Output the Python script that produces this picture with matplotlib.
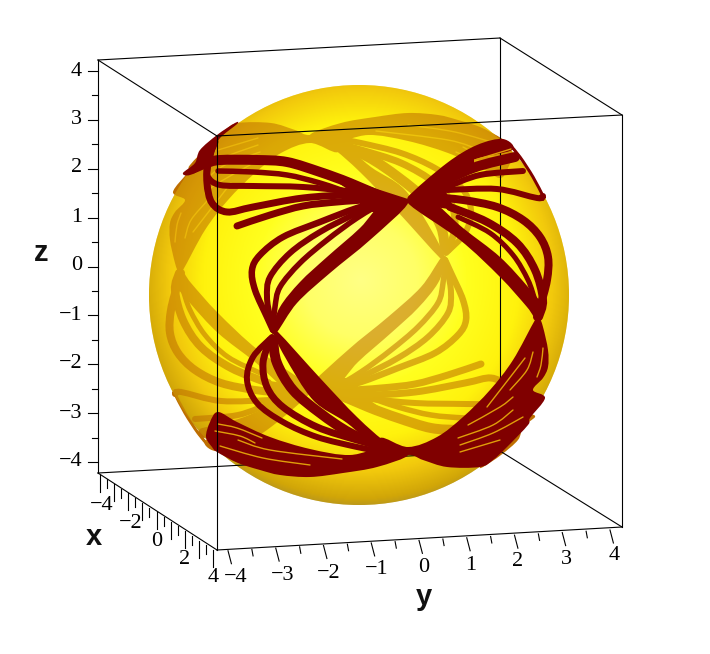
#!/usr/bin/env python3
# Sphere with curves on its surface, box axes. Everything is read off the picture in pixel
# coordinates (x right, y down), the plot is a 3D projection so a flat axes in pixels is plainest.
import numpy as np
import matplotlib; matplotlib.use("Agg")
import matplotlib.pyplot as plt
from matplotlib.path import Path
from matplotlib.patches import PathPatch, Circle
from matplotlib.colors import LinearSegmentedColormap

# --- curves on the near side, upper left fan
band_a1 = [(207,163),(220,160),(257,160),(287,162),(320,172),(350,183),(387,199)]
band_a2 = [(218,171),(253,172),(287,175),(320,183),(357,195),(387,200)]
band_a3 = [(208,167),(208,177),(220,185),(253,186),(303,187),(353,192),(387,200)]
band_a4 = [(215,142),(208,160),(207,183),(212,203),(227,212),(253,207),(303,198),(353,195),(387,198)]
band_a5 = [(237,226),(270,215),(303,206),(337,202),(370,200),(400,202)]
band_a6 = [(387,200),(357,208),(320,222),(283,237),(260,255),(252,270),(255,290),(267,317),(273,330)]
band_a7 = [(387,200),(357,213),(320,232),(290,253),(270,277),(267,297),(270,317),(273,330)]
band_a8 = [(387,200),(357,218),(327,240),(300,263),(280,287),(275,307),(273,330)]
# lower left fan
band_l1 = [(272,337),(253,357),(247,380),(257,403),(283,422),(317,437),(357,447),(383,452)]
band_l2 = [(270,340),(263,363),(267,387),(283,407),(317,427),(357,440),(383,447)]
band_l3 = [(273,340),(277,363),(293,390),(320,413),(350,433),(383,447)]
# upper right fan
band_r2 = [(425,190),(473,168),(515,157)]
band_r3 = [(447,187),(480,175),(523,171)]
band_r4 = [(447,190),(497,189),(537,198),(543,196)]
band_r4b = [(543,196),(533,177),(520,157),(510,145)]
band_r5 = [(430,197),(463,200),(497,207),(523,220),(540,237),(548,257),(547,280),(540,307),(537,317)]
band_r6 = [(450,207),(487,222),(517,243),(535,270),(543,300),(539,317)]
band_r7 = [(458,217),(490,233),(513,255),(528,280),(535,300)]

# --- solid wedges where the curves merge
wedge_a = [(408,203),(370,240),(330,273),(297,303),(277,332),(272,330),(280,307),(300,282),(327,257),(360,228),(383,203)]
tuft_a = [(183,173),(195,163),(200,150),(217,135),(235,123),(237,124),(220,138),(215,150),(210,165),(190,175)]
wedge_l = [(273,332),(278,332),(320,378),(357,417),(387,443),(408,452),(383,452),(347,423),(313,400),(285,357)]
wedge_b = [(408,455),(377,467),(343,473),(310,477),(280,475),(260,470),(238,463),(217,452),(212,447),(206,437),
           (210,422),(218,412),(237,422),(270,437),(310,449),(350,455),(385,447)]
wedge_lr = [(539,317),(535,320),(513,360),(490,390),(463,417),(437,437),(408,447),(380,438),(380,463),(408,455),
            (423,460),(447,467),(480,467),(493,460),(507,447),(528,425),(530,418),(545,398),(533,390),(543,378),
            (548,367),(548,350),(543,327)]
wedge_rt = [(408,197),(447,163),(477,145),(503,139),(512,150),(473,160),(447,178),(423,195)]
wedge_re = [(408,203),(460,240),(500,277),(527,307),(537,320),(543,307),(528,287),(500,257),(463,228),(430,200)]
# these have sharp corners, no rounding
hub_a = [(408,199),(377,189),(350,180),(340,184),(360,198),(360,212),(380,212),(408,203)]
hub_r = [(408,197),(447,165),(474,158),(474,172),(450,182),(446,192),(455,210),(408,203)]

# --- pale gaps left open inside the merged wedges
gap_1 = [(218,424),(237,428),(262,438)]
gap_2 = [(220,446),(263,458),(310,465)]
gap_3 = [(238,440),(270,450),(342,459)]
gap_4 = [(215,431),(240,436),(255,443)]
gap_5 = [(543,348),(541,365),(537,377)]
gap_6 = [(533,352),(527,370),(510,390)]
gap_7 = [(525,358),(508,380),(487,407)]
gap_8 = [(468,425),(500,407),(513,397)]
gap_9 = [(458,438),(493,425),(513,410)]
gap_10 = [(460,445),(493,433),(523,417)]
gap_11 = [(460,452),(500,440)]
gap_12 = [(475,160),(511,149)]

# --- box and ticks
box_back = [[(98,473),(500,451)], [(500,38),(500,451)], [(500,451),(622,527)]]
box_front = [[(98,60),(500,38)], [(98,60),(217,136)], [(500,38),(622,115)], [(217,136),(622,115)],
             [(98,60),(98,473)], [(98,473),(217,550)], [(217,136),(217,550)], [(217,550),(622,527)], [(622,115),(622,527)]]
z_ends = [(98,462),(98,71)]
x_ends = [(100,474.5),(213,550)]
y_ends = [(228,550.7),(610,530)]
tick_vals = [-4 + 0.5 * i for i in range(17)]
z_labels = ["\u22124","\u22123","\u22122","\u22121","0","1","2","3","4"]
x_labels = ["\u22124","\u22122","0","2","4"]
y_labels = z_labels
x_label_at = [(102,505),(131,523),(157,541),(185,559),(213,578)]
y_label_at = [(236,578),(283,575),(329,573),(377,570),(424,567),(471,565),(518,562),(566,559),(614,556)]
z_label_at = [(82,462),(82,413),(82,364),(82,315),(82,266),(82,217),(82,168),(82,120),(82,71)]

RED = "#800000"
BACK = (0.745, 0.43, 0.0)
MID = (0.88, 0.62, 0.04)
cx, cy, rad = 359, 295, 210

def smooth(pts, closed=False):
    # Catmull-Rom handles, drawn as matplotlib cubic segments
    p = [np.array(q, float) for q in pts]
    if closed: p = p + [p[0]]
    n = len(p)
    verts = [p[0]]; codes = [Path.MOVETO]
    for i in range(n - 1):
        a = p[i - 1] if i else (p[n - 2] if closed else p[i])
        d = p[i + 2] if i + 2 < n else (p[1] if closed else p[i + 1])
        verts += [p[i] + (p[i + 1] - a) / 6, p[i + 1] - (d - p[i]) / 6, p[i + 1]]
        codes += [Path.CURVE4] * 3
    return Path(verts, codes)

def flip(pts):
    # the far side of the sphere is the near side through the centre
    return [(2 * cx - x, 2 * cy - y) for x, y in pts]

bands = [(band_a1,10),(band_a2,5.5),(band_a3,6),(band_a4,7),(band_a5,7),(band_a6,6.5),(band_a7,6),(band_a8,5.5),
         (band_l1,6),(band_l2,7),(band_l3,10),(band_r2,10),(band_r3,6),(band_r4,6),(band_r4b,3),
         (band_r5,8),(band_r6,8),(band_r7,5)]
wedges = [wedge_a,tuft_a,wedge_l,wedge_b,wedge_lr,wedge_rt,wedge_re]
hubs = [hub_a,hub_r]
gaps = [gap_1,gap_2,gap_3,gap_4,gap_5,gap_6,gap_7,gap_8,gap_9,gap_10,gap_11,gap_12]

fig = plt.figure(figsize=(7.10, 6.54), dpi=100, facecolor="white")
ax = fig.add_axes([0, 0, 1, 1]); ax.axis("off")

# sphere shading
shade = LinearSegmentedColormap.from_list("shade", [
    (0.0, (1,1,0.52)), (0.25, (1,1,0.40)), (0.47, (1,1,0.12)), (0.70, (1,0.95,0.05)),
    (0.85, (0.95,0.79,0.05)), (0.97, (0.82,0.65,0.03)), (1.0, (0.74,0.60,0.10))])
yy, xx = np.mgrid[cy - rad - 1:cy + rad + 1:500j, cx - rad - 1:cx + rad + 1:500j]
dist = np.hypot(xx - (cx + 2), yy - (cy - 15)) / 226
for z, al in ((1, 1.0), (3, 0.45)):
    im = ax.imshow(dist, cmap=shade, vmin=0, vmax=1, extent=(cx - rad - 1, cx + rad + 1, cy + rad + 1, cy - rad - 1),
                   aspect="auto", zorder=z, alpha=al, interpolation="bilinear")
    im.set_clip_path(Circle((cx, cy), rad, transform=ax.transData))

def draw(tf, color, gapc, z):
    for pts, w in bands:
        ax.add_patch(PathPatch(smooth(tf(pts)), fc="none", ec=color, lw=w * 0.72, capstyle="round", zorder=z))
    for pts in wedges:
        ax.add_patch(PathPatch(smooth(tf(pts), closed=True), fc=color, ec="none", lw=0, zorder=z))
    for pts in hubs:
        ax.fill(*zip(*tf(pts)), color=color, lw=0, zorder=z)
    for pts in gaps:
        ax.add_patch(PathPatch(smooth(tf(pts)), fc="none", ec=gapc, lw=1.0, capstyle="round", zorder=z + 0.1))

draw(flip, BACK, MID, 2)
for seg in box_back:
    ax.plot(*zip(*seg), color="k", lw=0.8, zorder=4)
draw(lambda p: p, RED, MID, 5)
for seg in box_front:
    ax.plot(*zip(*seg), color="k", lw=0.8, zorder=6)

# ticks, long on whole numbers, short on halves
def ticks(ends, major, minor):
    (x0, y0), (x1, y1) = ends
    for v in tick_vals:
        f = (v + 4) / 8
        bx, by = x0 + f * (x1 - x0), y0 + f * (y1 - y0)
        dx, dy = major if v == int(v) else minor
        ax.plot([bx, bx + dx], [by, by + dy], color="k", lw=0.8, zorder=6)
ticks(z_ends, (-10, 0), (-6, 0))
ticks(x_ends, (0, 17), (0, 9))
ticks(y_ends, (3.4, 13), (1.2, 6.5))

tfont = dict(family="Liberation Serif", fontsize=16, color="k", zorder=7)
for s, (x, y) in zip(z_labels, z_label_at):
    ax.text(x, y, s, ha="right", va="center", **tfont)
for s, (x, y) in zip(x_labels, x_label_at):
    ax.text(x, y, s, ha="center", va="center", **tfont)
for s, (x, y) in zip(y_labels, y_label_at):
    ax.text(x, y, s, ha="center", va="center", **tfont)
lfont = dict(family="Liberation Sans", fontsize=21, fontweight="bold", color="#111111", ha="center", va="center", zorder=7)
ax.text(41, 253, "z", **lfont)
ax.text(94, 537, "x", **lfont)
ax.text(424, 597, "y", **lfont)

ax.set_xlim(0, 710); ax.set_ylim(654, 0)
fig.savefig("out.png", dpi=100, facecolor="white")
